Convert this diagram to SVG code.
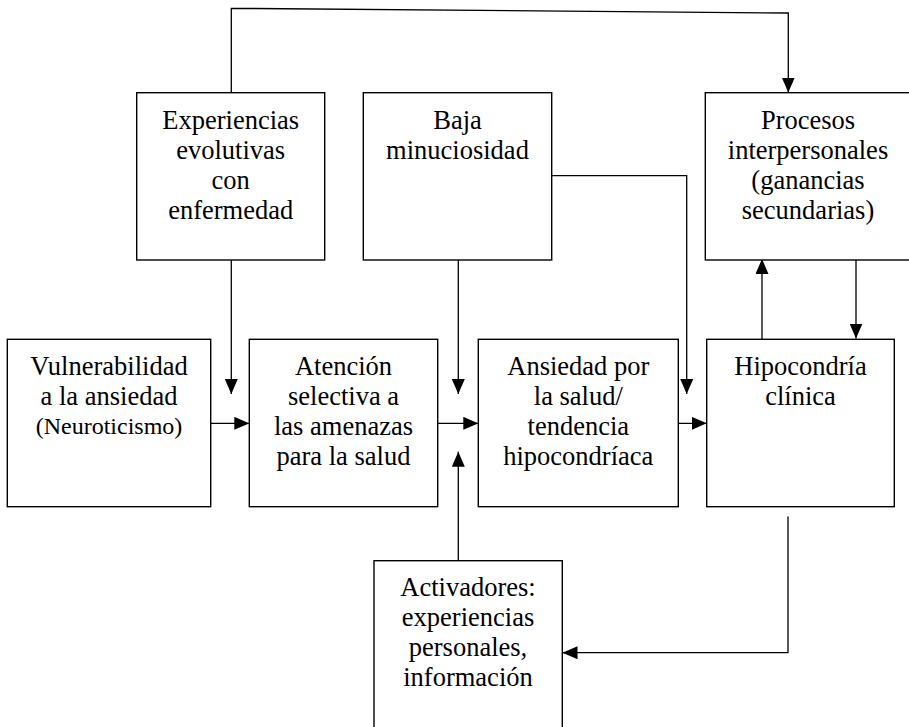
<svg xmlns="http://www.w3.org/2000/svg" width="909" height="727" viewBox="0 0 909 727">
  <style>
    .box { fill: #ffffff; stroke: #000000; stroke-width: 1.4; }
    .lbl { font-family: "Liberation Serif", "Times New Roman", serif; font-size: 26.5px; fill: #000000; text-anchor: middle; }
    .small { font-size: 24px; }
    .wire { fill: none; stroke: #000000; stroke-width: 1.3; }
    .arrow { marker-end: url(#head); }
  </style>
  <defs>
    <marker id="head" viewBox="0 0 15 13" markerWidth="15" markerHeight="13" refX="15" refY="6.5" orient="auto" markerUnits="userSpaceOnUse">
      <path d="M0,0 L15,6.5 L0,13 Z" fill="#000000"/>
    </marker>
  </defs>
  <rect width="909" height="727" fill="#ffffff"/>

  <!-- connectors -->
  <g id="connectors">
    <!-- feedback loop over the top into interpersonal processes -->
    <polyline class="wire arrow" points="231.3,92.7 231.3,8.3 788.3,13 788.3,92.5"/>
    <!-- developmental experiences down to attention -->
    <line class="wire arrow" x1="231.3" y1="260" x2="231.3" y2="394"/>
    <!-- low thoroughness down to health anxiety -->
    <line class="wire arrow" x1="458.3" y1="260" x2="458.3" y2="394"/>
    <!-- low thoroughness across to clinical hypochondria -->
    <polyline class="wire arrow" points="551.7,175.7 686.7,175.7 686.7,394"/>
    <!-- horizontal chain -->
    <line class="wire arrow" x1="210.7" y1="423.3" x2="249.3" y2="423.3"/>
    <line class="wire arrow" x1="437.7" y1="423.3" x2="478.3" y2="423.3"/>
    <line class="wire arrow" x1="666.7" y1="423.3" x2="706.7" y2="423.3"/>
    <!-- triggers up into the chain -->
    <line class="wire arrow" x1="458.3" y1="560.7" x2="458.3" y2="451.7"/>
    <!-- hypochondria <-> interpersonal processes -->
    <line class="wire arrow" x1="762" y1="339.3" x2="762" y2="259"/>
    <line class="wire arrow" x1="856" y1="260" x2="856" y2="338.5"/>
    <!-- hypochondria back to triggers -->
    <polyline class="wire arrow" points="788,516.5 788,652.7 562.5,652.7"/>
  </g>

  <g id="experiencias">
    <rect class="box" x="136.7" y="92.7" width="188" height="167.3"/>
    <text class="lbl" x="230.7" y="129">Experiencias</text>
    <text class="lbl" x="230.7" y="159">evolutivas</text>
    <text class="lbl" x="230.7" y="189">con</text>
    <text class="lbl" x="230.7" y="219">enfermedad</text>
  </g>

  <g id="baja-minuciosidad">
    <rect class="box" x="363.3" y="92.7" width="188.4" height="167.3"/>
    <text class="lbl" x="457.5" y="128.5">Baja</text>
    <text class="lbl" x="457.5" y="158.5">minuciosidad</text>
  </g>

  <g id="procesos">
    <rect class="box" x="705.3" y="92.7" width="206" height="167.3"/>
    <text class="lbl" x="808" y="129">Procesos</text>
    <text class="lbl" x="808" y="159">interpersonales</text>
    <text class="lbl" x="808" y="189">(ganancias</text>
    <text class="lbl" x="808" y="219">secundarias)</text>
  </g>

  <g id="vulnerabilidad">
    <rect class="box" x="7.3" y="339.3" width="203.4" height="167.4"/>
    <text class="lbl" x="109" y="374.5">Vulnerabilidad</text>
    <text class="lbl" x="109" y="404.5">a la ansiedad</text>
    <text class="lbl small" x="109" y="433.5">(Neuroticismo)</text>
  </g>

  <g id="atencion">
    <rect class="box" x="249.3" y="339.3" width="188.4" height="167.4"/>
    <text class="lbl" x="343.5" y="375">Atención</text>
    <text class="lbl" x="343.5" y="405">selectiva a</text>
    <text class="lbl" x="343.5" y="435">las amenazas</text>
    <text class="lbl" x="343.5" y="465">para la salud</text>
  </g>

  <g id="ansiedad-salud">
    <rect class="box" x="478.3" y="339.3" width="200" height="167.4"/>
    <text class="lbl" x="578.3" y="375">Ansiedad por</text>
    <text class="lbl" x="578.3" y="405">la salud/</text>
    <text class="lbl" x="578.3" y="435">tendencia</text>
    <text class="lbl" x="578.3" y="465">hipocondríaca</text>
  </g>

  <g id="hipocondria">
    <rect class="box" x="706.7" y="339.3" width="187.6" height="167.4"/>
    <text class="lbl" x="800.5" y="375">Hipocondría</text>
    <text class="lbl" x="800.5" y="405">clínica</text>
  </g>

  <g id="activadores">
    <rect class="box" x="374" y="560.7" width="188.3" height="180"/>
    <text class="lbl" x="468" y="596">Activadores:</text>
    <text class="lbl" x="468" y="626">experiencias</text>
    <text class="lbl" x="468" y="656">personales,</text>
    <text class="lbl" x="468" y="686">información</text>
  </g>
</svg>
